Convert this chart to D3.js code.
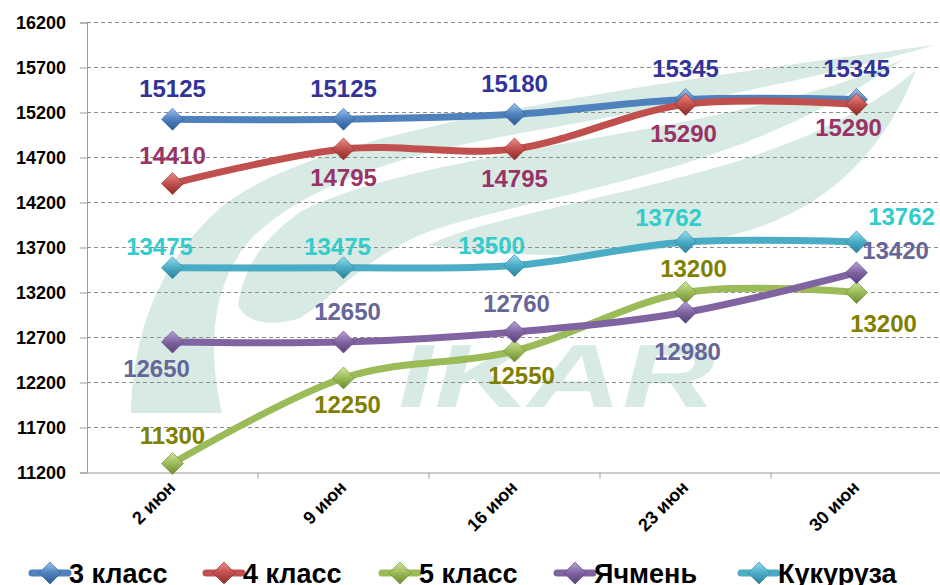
<!DOCTYPE html>
<html><head><meta charset="utf-8">
<script src="https://cdn.jsdelivr.net/npm/d3@7"></script>
<style>
html,body{margin:0;padding:0;background:#fff;}
svg{display:block;font-family:"Liberation Sans",Arial,sans-serif;}
</style></head>
<body><svg id="c" width="940" height="585"></svg>
<script>
// ---------- data ----------
const categories = ["2 июн", "9 июн", "16 июн", "23 июн", "30 июн"];
const seriesNames = ["3 класс", "4 класс", "5 класс", "Ячмень", "Кукуруза"];
const class3 = [15125, 15125, 15180, 15345, 15345];
const class4 = [14410, 14795, 14795, 15290, 15290];
const class5 = [11300, 12250, 12550, 13200, 13200];
const barley = [12650, 12650, 12760, 12980, 13420];
const corn   = [13475, 13475, 13500, 13762, 13762];
const yTicks = [11200, 11700, 12200, 12700, 13200, 13700, 14200, 14700, 15200, 15700, 16200];

// ---------- styles / layout ----------
const lineColors  = ["#4F81BD", "#C0504D", "#9BBB59", "#8064A2", "#4BACC6"];
const lightColors = ["#9DC3F0", "#F08C88", "#CFE79A", "#B9A2D8", "#93DDF0"];
const darkColors  = ["#2C5A93", "#8E2A27", "#6C8A2E", "#573F7A", "#2A8198"];
const labelColors = ["#333399", "#993366", "#808000", "#666699", "#33CCCC"];
// label offsets from each point [dx, dy]
const labelOffsets = [
  [[0,-31],[0,-31],[0,-31],[0,-31],[0,-31]],
  [[0,-28],[0,28],[0,29],[-2,29],[-8,23]],
  [[0,-28],[4,26],[7,24],[8,-24],[27,31]],
  [[-16,26],[4,-31],[2,-29],[2,39],[39,-22]],
  [[-13,-21],[-6,-21],[-23,-20],[-17,-25],[45,-26]]
];

const series = [class3, class4, class5, barley, corn].map((v, i) => ({name: seriesNames[i], values: v, i}));

const svg = d3.select("#c");
const W = 940, H = 585;
const x0 = 87, x1 = 942, yTop = 22.5, yBot = 472.5;

const x = d3.scaleBand().domain(categories).range([x0, x1]);
const y = d3.scaleLinear().domain([11200, 16200]).range([yBot, yTop]);
const cx = c => x(c) + x.bandwidth() / 2;

// gradients for markers
const defs = svg.append("defs");
lineColors.forEach((c, i) => {
  const g = defs.append("linearGradient").attr("id", "g" + i)
    .attr("x1", 0).attr("y1", 0).attr("x2", 0).attr("y2", 1);
  g.append("stop").attr("offset", "0%").attr("stop-color", lightColors[i]);
  g.append("stop").attr("offset", "50%").attr("stop-color", c);
  g.append("stop").attr("offset", "100%").attr("stop-color", darkColors[i]);
});

// watermark (background logo)
const wm = svg.append("g").attr("fill", "#d8eae4");
wm.append("path").attr("d",
  "M131,413 C133,330 160,262 220,208 C300,145 480,105 935,45 C780,90 600,118 485,140 C385,160 300,190 252,238 C215,278 205,340 222,413 Z");
wm.append("path").attr("d",
  "M238,305 C245,265 262,240 300,212 C360,180 470,160 640,130 C760,108 850,85 905,58 C830,110 760,140 680,165 C560,200 470,215 420,235 C360,262 330,300 300,318 C270,328 245,322 238,305 Z");
wm.append("path").attr("d",
  "M428,245 C480,220 580,205 700,172 C800,145 870,110 916,70 C885,150 830,205 750,230 C660,258 540,262 428,245 Z");
wm.append("text").attr("x", 0).attr("y", 0)
  .attr("transform", "translate(392,407) skewX(-14)")
  .attr("font-size", 90).attr("font-weight", "bold")
  .attr("textLength", 318).attr("lengthAdjust", "spacingAndGlyphs")
  .text("IKAR");

// gridlines
svg.append("g").selectAll("line").data(yTicks.filter(t => t !== 11200)).join("line")
  .attr("x1", x0).attr("x2", W).attr("y1", d => y(d)).attr("y2", d => y(d))
  .attr("stroke", "#8c8c8c").attr("stroke-width", 1).attr("stroke-dasharray", "4,3");

// y axis
const yAxis = svg.append("g").attr("transform", `translate(${x0},0)`)
  .call(d3.axisLeft(y).tickValues(yTicks).tickSize(7).tickPadding(14).tickFormat(d3.format("d")));
yAxis.select(".domain").attr("stroke", "#9a9a9a");
yAxis.selectAll(".tick line").attr("stroke", "#9a9a9a");
yAxis.selectAll("text").attr("font-size", 18).attr("font-weight", "bold").attr("fill", "#000")
  .attr("font-family", "Liberation Sans, Arial, sans-serif");

// x axis
const xAxis = svg.append("g").attr("transform", `translate(0,${yBot})`)
  .call(d3.axisBottom(x).tickSize(0).tickFormat(""));
xAxis.select(".domain").attr("stroke", "#9a9a9a");
svg.append("g").selectAll("line").data(categories.slice(1)).join("line")
  .attr("x1", d => x(d)).attr("x2", d => x(d)).attr("y1", yBot).attr("y2", yBot + 6)
  .attr("stroke", "#9a9a9a");
svg.append("g").selectAll("text").data(categories).join("text")
  .attr("transform", d => `translate(${cx(d) + 4},${yBot + 16}) rotate(-45)`)
  .attr("text-anchor", "end").attr("font-size", 18).attr("font-weight", "bold").attr("fill", "#000")
  .text(d => d);

// lines and markers
const line = d3.line().x((d, j) => cx(categories[j])).y(d => y(d)).curve(d3.curveCardinal.tension(0));
const diamond = (px, py, r) => `M${px},${py - r} L${px + r},${py} L${px},${py + r} L${px - r},${py} Z`;

series.forEach(s => {
  const g = svg.append("g");
  g.append("path").attr("d", line(s.values)).attr("fill", "none")
    .attr("stroke", lineColors[s.i]).attr("stroke-width", 7).attr("stroke-linecap", "round");
  g.selectAll("path.m").data(s.values).join("path").attr("class", "m")
    .attr("d", (d, j) => diamond(cx(categories[j]), y(d), 11))
    .attr("fill", `url(#g${s.i})`).attr("stroke", darkColors[s.i]).attr("stroke-width", 0.6);
});

// data labels
series.forEach(s => {
  svg.append("g").selectAll("text").data(s.values).join("text")
    .attr("x", (d, j) => cx(categories[j]) + labelOffsets[s.i][j][0])
    .attr("y", (d, j) => y(d) + labelOffsets[s.i][j][1])
    .attr("dy", "0.36em").attr("text-anchor", "middle")
    .attr("font-size", 24).attr("font-weight", "bold").attr("fill", labelColors[s.i])
    .text(d => d);
});

// legend
const legendX = [32, 206, 382, 557, 741];
const lg = svg.append("g");
series.forEach(s => {
  const lx = legendX[s.i], ly = 573;
  lg.append("line").attr("x1", lx).attr("x2", lx + 36).attr("y1", ly).attr("y2", ly)
    .attr("stroke", lineColors[s.i]).attr("stroke-width", 7).attr("stroke-linecap", "round");
  lg.append("path").attr("d", diamond(lx + 18, ly, 11))
    .attr("fill", `url(#g${s.i})`).attr("stroke", darkColors[s.i]).attr("stroke-width", 0.6);
  lg.append("text").attr("x", lx + 37).attr("y", ly + 10)
    .attr("font-size", 27).attr("font-weight", "bold").attr("fill", "#000")
    .text(s.name);
});
</script></body></html>
